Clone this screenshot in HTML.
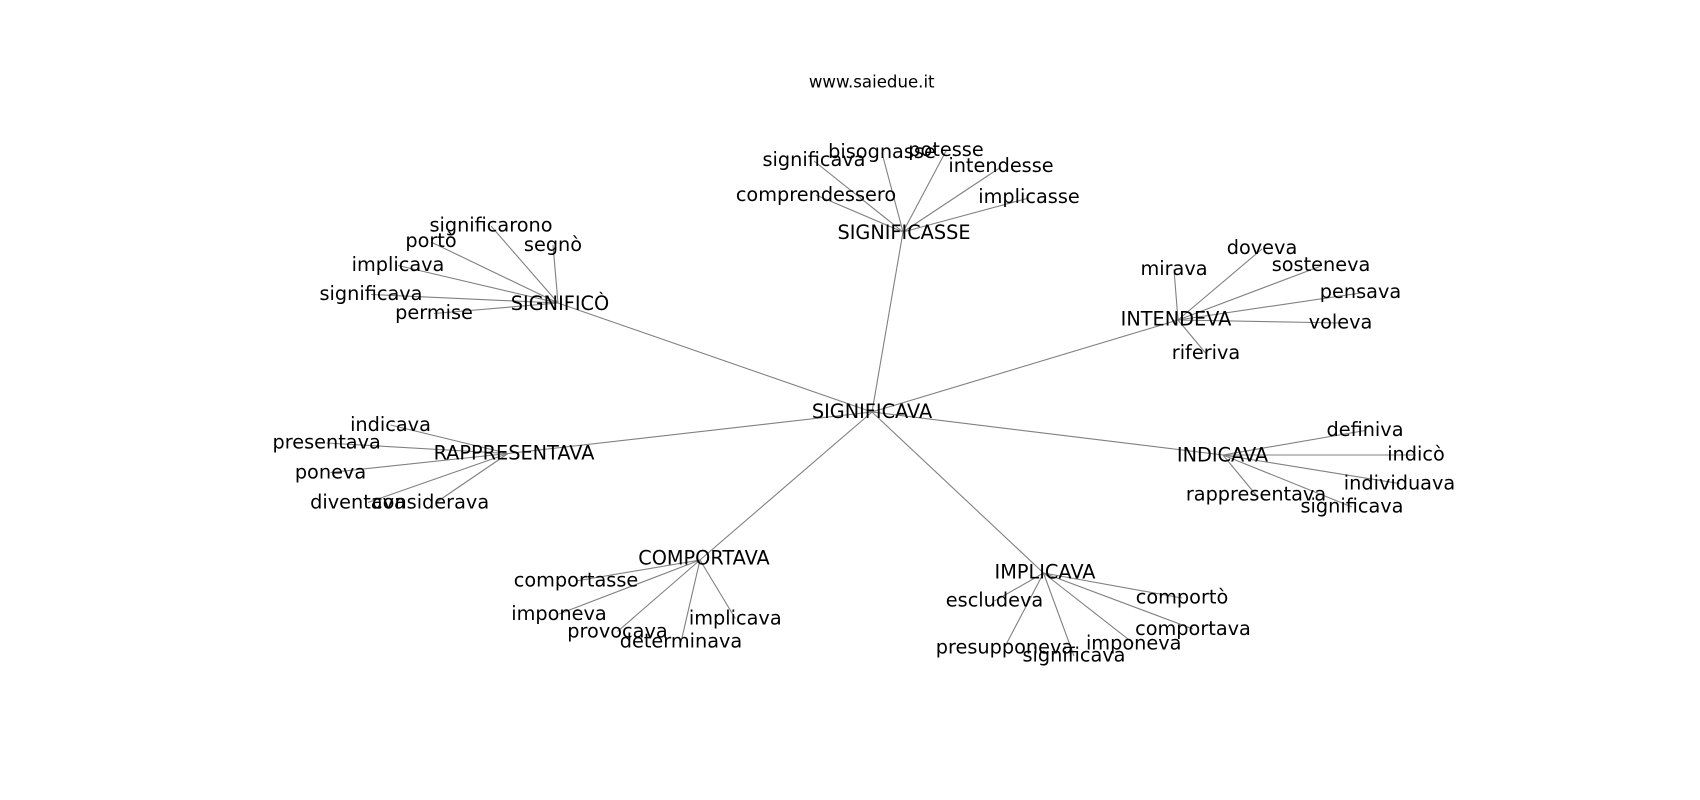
<!DOCTYPE html>
<html>
<head>
<meta charset="utf-8">
<style>
html,body{margin:0;padding:0;background:#fff;}
svg{display:block;}
text{font-family:"DejaVu Sans","Liberation Sans",sans-serif;fill:#000;}
.n{font-size:19.3px;text-anchor:middle;}
.t{font-size:16.6px;text-anchor:middle;}
line{stroke:#808080;stroke-width:1.1;}
</style>
</head>
<body>
<svg width="1700" height="800" viewBox="0 0 1700 800" xmlns="http://www.w3.org/2000/svg">
<g>
<!-- center to hubs -->
<line x1="872" y1="412" x2="903" y2="232"/>
<line x1="872" y1="412" x2="558" y2="303"/>
<line x1="872" y1="412" x2="1178" y2="320"/>
<line x1="872" y1="412" x2="1223" y2="455"/>
<line x1="872" y1="412" x2="508" y2="453.5"/>
<line x1="872" y1="412" x2="700" y2="560"/>
<line x1="872" y1="412" x2="1043.5" y2="573"/>
<!-- SIGNIFICASSE -->
<line x1="903" y1="232" x2="814" y2="161"/>
<line x1="903" y1="232" x2="882" y2="153"/>
<line x1="903" y1="232" x2="946" y2="151"/>
<line x1="903" y1="232" x2="1001" y2="167"/>
<line x1="903" y1="232" x2="816" y2="195"/>
<line x1="903" y1="232" x2="1029" y2="198"/>
<!-- SIGNIFICO -->
<line x1="558" y1="303" x2="491" y2="226"/>
<line x1="558" y1="303" x2="431" y2="242"/>
<line x1="558" y1="303" x2="553" y2="245"/>
<line x1="558" y1="303" x2="398" y2="265.5"/>
<line x1="558" y1="303" x2="371" y2="294.5"/>
<line x1="558" y1="303" x2="434" y2="313.5"/>
<!-- INTENDEVA -->
<line x1="1178" y1="320" x2="1262" y2="249"/>
<line x1="1178" y1="320" x2="1174" y2="269.5"/>
<line x1="1178" y1="320" x2="1321" y2="266"/>
<line x1="1178" y1="320" x2="1360.5" y2="293"/>
<line x1="1178" y1="320" x2="1340.5" y2="323"/>
<line x1="1178" y1="320" x2="1206" y2="353.5"/>
<!-- INDICAVA -->
<line x1="1223" y1="455" x2="1365" y2="430.5"/>
<line x1="1223" y1="455" x2="1416" y2="455"/>
<line x1="1223" y1="455" x2="1399.5" y2="483.5"/>
<line x1="1223" y1="455" x2="1256" y2="495"/>
<line x1="1223" y1="455" x2="1352" y2="507"/>
<!-- RAPPRESENTAVA -->
<line x1="508" y1="453.5" x2="390.5" y2="425"/>
<line x1="508" y1="453.5" x2="326.7" y2="443"/>
<line x1="508" y1="453.5" x2="330.5" y2="472.5"/>
<line x1="508" y1="453.5" x2="368" y2="502.5"/>
<line x1="508" y1="453.5" x2="436" y2="502.5"/>
<!-- COMPORTAVA -->
<line x1="700" y1="560" x2="576" y2="581"/>
<line x1="700" y1="560" x2="559" y2="614"/>
<line x1="700" y1="560" x2="617.5" y2="631.5"/>
<line x1="700" y1="560" x2="735.3" y2="618.5"/>
<line x1="700" y1="560" x2="681" y2="642"/>
<!-- IMPLICAVA -->
<line x1="1043.5" y1="573" x2="994.5" y2="601"/>
<line x1="1043.5" y1="573" x2="1182" y2="598"/>
<line x1="1043.5" y1="573" x2="1193" y2="629"/>
<line x1="1043.5" y1="573" x2="1004.5" y2="647.5"/>
<line x1="1043.5" y1="573" x2="1074" y2="656"/>
<line x1="1043.5" y1="573" x2="1133.7" y2="643.5"/>
</g>

<text class="t" x="871.7" y="87.7">www.saiedue.it</text>

<g class="n">
<text class="n" x="872" y="418">SIGNIFICAVA</text>

<text class="n" x="904" y="239">SIGNIFICASSE</text>
<text class="n" x="814" y="166">significava</text>
<text class="n" x="882" y="158">bisognasse</text>
<text class="n" x="946" y="156">potesse</text>
<text class="n" x="1001" y="172">intendesse</text>
<text class="n" x="816" y="201">comprendessero</text>
<text class="n" x="1029" y="203">implicasse</text>

<text class="n" x="560" y="310">SIGNIFICÒ</text>
<text class="n" x="491" y="231.5">significarono</text>
<text class="n" x="431" y="247">portò</text>
<text class="n" x="553" y="251">segnò</text>
<text class="n" x="398" y="271">implicava</text>
<text class="n" x="371" y="300">significava</text>
<text class="n" x="434" y="319">permise</text>

<text class="n" x="1176" y="325.7">INTENDEVA</text>
<text class="n" x="1262" y="254">doveva</text>
<text class="n" x="1174" y="275">mirava</text>
<text class="n" x="1321" y="271">sosteneva</text>
<text class="n" x="1360.5" y="298">pensava</text>
<text class="n" x="1340.5" y="328.3">voleva</text>
<text class="n" x="1206" y="359">riferiva</text>

<text class="n" x="1222.5" y="461.7">INDICAVA</text>
<text class="n" x="1365" y="436">definiva</text>
<text class="n" x="1416" y="460.7">indicò</text>
<text class="n" x="1399.5" y="489.3">individuava</text>
<text class="n" x="1256" y="500.7">rappresentava</text>
<text class="n" x="1352" y="512.7">significava</text>

<text class="n" x="514" y="459.3">RAPPRESENTAVA</text>
<text class="n" x="390.5" y="431">indicava</text>
<text class="n" x="326.7" y="448.3">presentava</text>
<text class="n" x="330.5" y="478.3">poneva</text>
<text class="n" x="358" y="508.3">diventava</text>
<text class="n" x="430.6" y="508.3">considerava</text>

<text class="n" x="704" y="564.3">COMPORTAVA</text>
<text class="n" x="576" y="586.7">comportasse</text>
<text class="n" x="559" y="620">imponeva</text>
<text class="n" x="617.5" y="637.3">provocava</text>
<text class="n" x="735.3" y="624.3">implicava</text>
<text class="n" x="681" y="647.7">determinava</text>

<text class="n" x="1045" y="578.3">IMPLICAVA</text>
<text class="n" x="994.5" y="606.7">escludeva</text>
<text class="n" x="1182" y="603.3">comportò</text>
<text class="n" x="1193" y="635">comportava</text>
<text class="n" x="1004.5" y="653.3">presupponeva</text>
<text class="n" x="1074" y="661.7">significava</text>
<text class="n" x="1133.7" y="649.3">imponeva</text>
</g>
</svg>
</body>
</html>
